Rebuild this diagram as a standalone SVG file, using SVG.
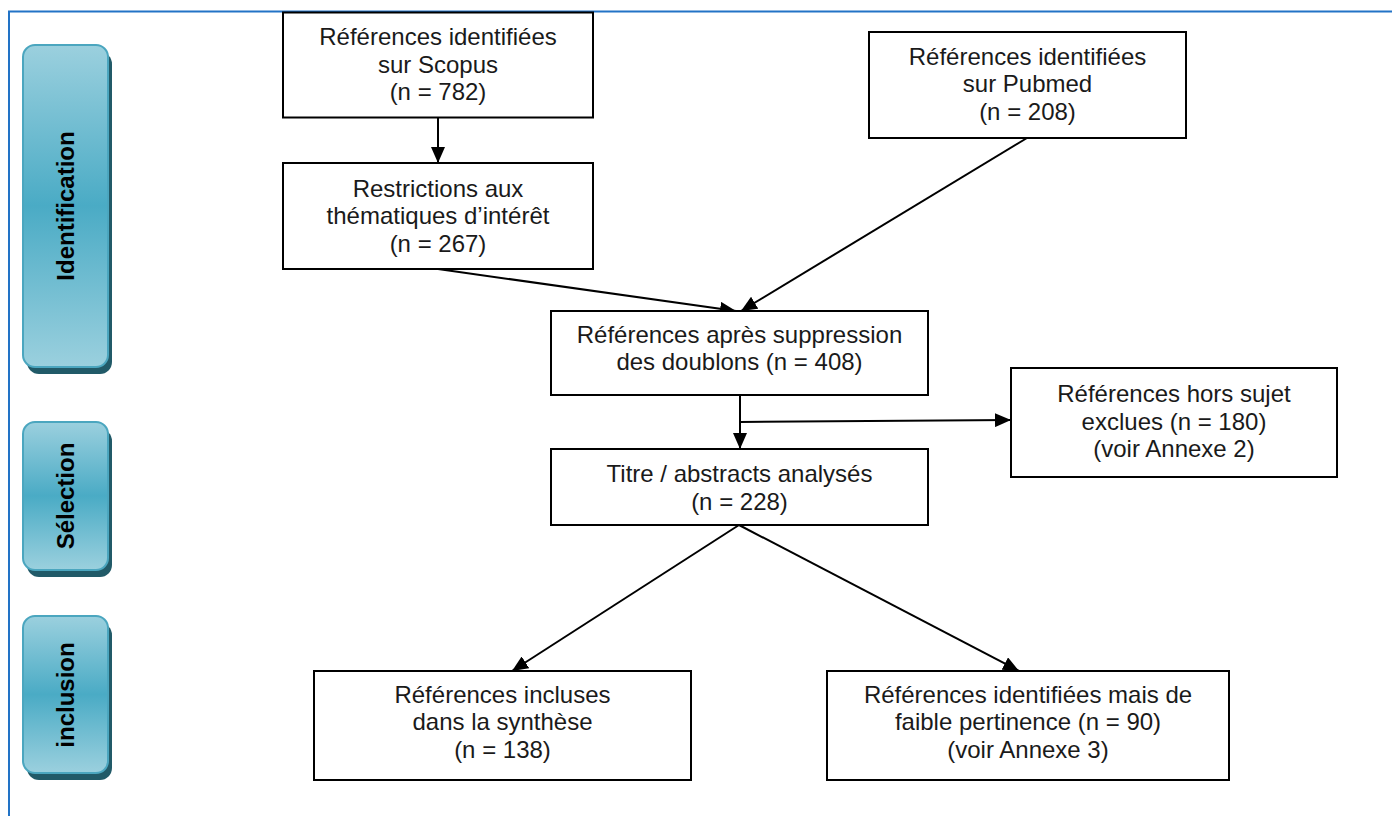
<svg xmlns="http://www.w3.org/2000/svg" width="1392" height="816" viewBox="0 0 1392 816">
<defs>
<linearGradient id="side" x1="0" y1="0" x2="0" y2="1">
<stop offset="0" stop-color="#9bd0de"/>
<stop offset="0.5" stop-color="#4aabc5"/>
<stop offset="1" stop-color="#9bd0de"/>
</linearGradient>
<marker id="ah" viewBox="0 0 16 14" refX="16" refY="7" markerWidth="16" markerHeight="14" markerUnits="userSpaceOnUse" orient="auto">
<path d="M0,0 L16,7 L0,14 z" fill="#000"/>
</marker>
</defs>
<style>
.box{fill:#fff;stroke:#000;stroke-width:2}
.t{font-family:"Liberation Sans",Arial,sans-serif;font-size:24px;fill:#1a1a1a;text-anchor:middle}
.lab{font-family:"Liberation Sans",Arial,sans-serif;font-size:24px;font-weight:bold;fill:#000;text-anchor:middle}
.sh{fill:#215a68}
.sb{fill:url(#side);stroke:#4ba6bf;stroke-width:2}
.c{fill:none;stroke:#000;stroke-width:2;marker-end:url(#ah)}
</style>
<rect width="1392" height="816" fill="#fff"/>
<path d="M9,816 L9,11.5 L1392,11.5" fill="none" stroke="#2273c6" stroke-width="2"/>

<g id="side-identification">
<rect class="sh" x="27" y="52" width="85" height="322" rx="12"/>
<rect class="sb" x="23" y="45" width="85" height="322" rx="12"/>
<text class="lab" transform="translate(74,206) rotate(-90)">Identification</text>
</g>
<g id="side-selection">
<rect class="sh" x="27" y="429" width="85" height="148" rx="12"/>
<rect class="sb" x="23" y="422" width="85" height="148" rx="12"/>
<text class="lab" transform="translate(74,496) rotate(-90)">Sélection</text>
</g>
<g id="side-inclusion">
<rect class="sh" x="27" y="623" width="85" height="157" rx="12"/>
<rect class="sb" x="23" y="616" width="85" height="157" rx="12"/>
<text class="lab" transform="translate(74,695) rotate(-90)">inclusion</text>
</g>

<g id="connectors">
<path class="c" d="M438,118 L438,163"/>
<path class="c" d="M438,269 L736,311"/>
<path class="c" d="M1027,138 L741,311"/>
<path class="c" d="M740,395 L740,449"/>
<path class="c" d="M740,422 L1011,420"/>
<path class="c" d="M739,525 L512,671"/>
<path class="c" d="M739,525 L1019,671"/>
</g>

<g id="scopus">
<rect class="box" x="283" y="12.5" width="310" height="105"/>
<text class="t" x="438" y="45">Références identifiées</text>
<text class="t" x="438" y="73">sur Scopus</text>
<text class="t" x="438" y="100">(n = 782)</text>
</g>
<g id="restrictions">
<rect class="box" x="283" y="163" width="310" height="106"/>
<text class="t" x="438" y="197">Restrictions aux</text>
<text class="t" x="438" y="224">thématiques d’intérêt</text>
<text class="t" x="438" y="252">(n = 267)</text>
</g>
<g id="pubmed">
<rect class="box" x="869" y="32" width="317" height="106"/>
<text class="t" x="1027.5" y="65">Références identifiées</text>
<text class="t" x="1027.5" y="92">sur Pubmed</text>
<text class="t" x="1027.5" y="120">(n = 208)</text>
</g>
<g id="doublons">
<rect class="box" x="551" y="311" width="377" height="84"/>
<text class="t" x="739.5" y="343">Références après suppression</text>
<text class="t" x="739.5" y="370">des doublons (n = 408)</text>
</g>
<g id="titre">
<rect class="box" x="551" y="449" width="377" height="76"/>
<text class="t" x="739.5" y="482">Titre / abstracts analysés</text>
<text class="t" x="739.5" y="510">(n = 228)</text>
</g>
<g id="hors-sujet">
<rect class="box" x="1011" y="368" width="326" height="109"/>
<text class="t" x="1174" y="402">Références hors sujet</text>
<text class="t" x="1174" y="430">exclues (n = 180)</text>
<text class="t" x="1174" y="457">(voir Annexe 2)</text>
</g>
<g id="incluses">
<rect class="box" x="314" y="671" width="377" height="109"/>
<text class="t" x="502.5" y="703">Références incluses</text>
<text class="t" x="502.5" y="730">dans la synthèse</text>
<text class="t" x="502.5" y="758">(n = 138)</text>
</g>
<g id="faible">
<rect class="box" x="827" y="671" width="402" height="109"/>
<text class="t" x="1028" y="703">Références identifiées mais de</text>
<text class="t" x="1028" y="730">faible pertinence (n = 90)</text>
<text class="t" x="1028" y="758">(voir Annexe 3)</text>
</g>
</svg>
